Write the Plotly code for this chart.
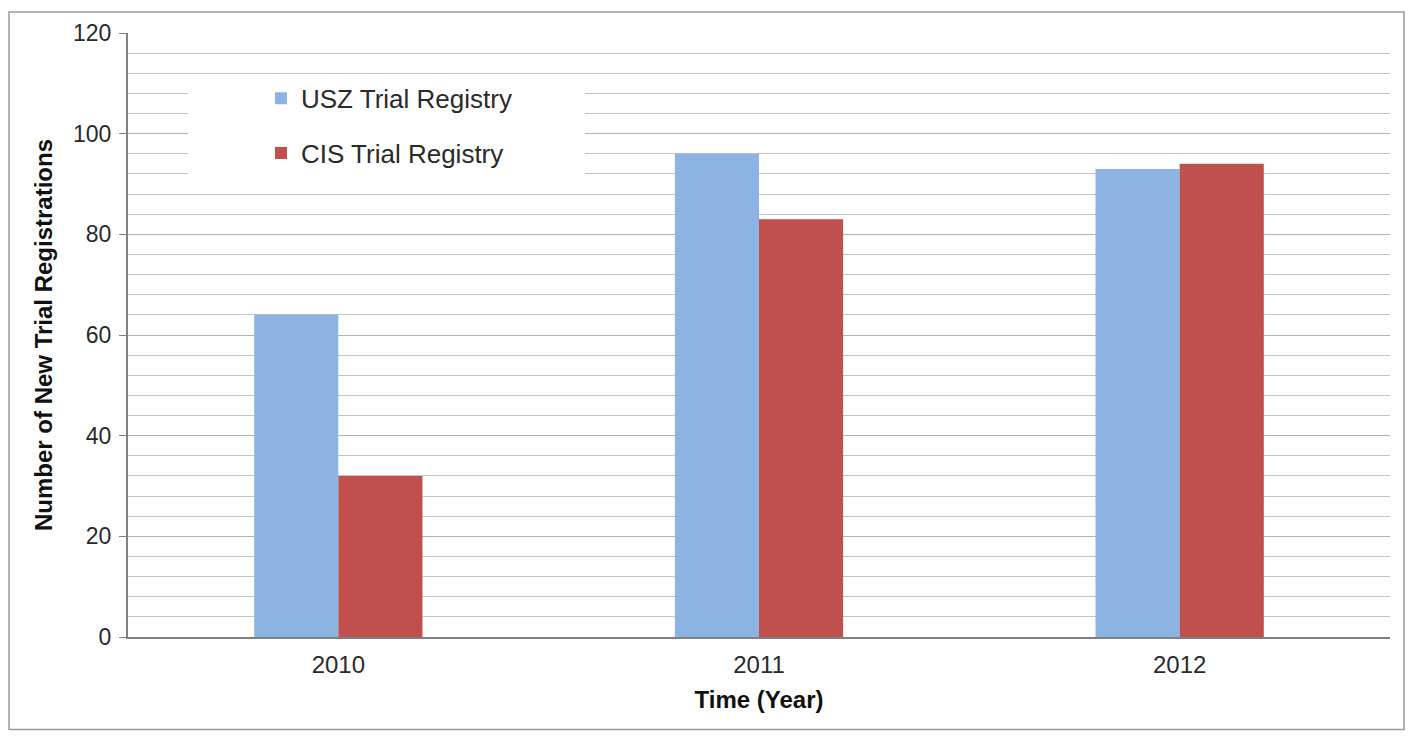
import plotly.graph_objects as go

years = ["2010", "2011", "2012"]
usz = [64, 96, 93]
cis = [32, 83, 94]
series_names = ["USZ Trial Registry", "CIS Trial Registry"]
colors = ["#8DB3E2", "#C0504D"]

# page body has an 8px margin; work in screen pixels and convert
OFF = 8
W, H = 1413 - 2 * OFF, 739 - 2 * OFF
left, right, top, bottom = 128, 1390, 30, 637  # plot area in screen px
ml, mt = left - OFF, top - OFF
mr = W - (right - OFF)
mb = H - (bottom - OFF)
pw, ph = W - ml - mr, H - mt - mb


def px_x(p):
    return (p - OFF - ml) / pw


def px_y(p):
    return (bottom - p) / ph


fig = go.Figure()
for name, vals, c, g in zip(series_names, [usz, cis], colors, ["a", "b"]):
    fig.add_trace(go.Bar(x=years, y=vals, name=name, marker_color=c,
                         marker_line_width=0, legendgroup=g))

font = "Liberation Sans, Arial, sans-serif"
fig.update_layout(
    width=W, height=H,
    margin=dict(l=ml, r=mr, t=mt, b=mb),
    paper_bgcolor="white", plot_bgcolor="white",
    bargap=0.6, bargroupgap=0,
    font=dict(family=font, size=22, color="#2a2a2a"),
    showlegend=True,
    legend=dict(x=px_x(261), y=px_y(72), xanchor="left", yanchor="top",
                bgcolor="rgba(0,0,0,0)", font=dict(size=26, color="#2a2a2a"),
                tracegroupgap=18, itemwidth=30),
    xaxis=dict(showgrid=False, showline=True, linecolor="#808080", linewidth=2,
               ticks="", tickfont=dict(size=24, color="#2a2a2a"), ticklabelstandoff=5,
               title=dict(text="<b>Time (Year)</b>", font=dict(size=24, color="#111111"), standoff=14)),
    yaxis=dict(range=[0, 120], dtick=20, showgrid=True, gridcolor="#b4b4b4", gridwidth=1,
               showline=True, linecolor="#808080", linewidth=2,
               ticks="outside", ticklen=7, tickcolor="#808080", ticklabelstandoff=3,
               minor=dict(dtick=4, showgrid=True, gridcolor="#c4c4c4", gridwidth=1),
               tickfont=dict(size=23, color="#2a2a2a"), zeroline=False,
               title=dict(text="<b>Number of New Trial Registrations</b>",
                          font=dict(size=24, color="#111111"), standoff=14)),
    shapes=[
        dict(type="rect", xref="paper", yref="paper",
             x0=px_x(188), x1=px_x(585), y0=px_y(180), y1=px_y(88),
             fillcolor="white", line=dict(width=0), layer="above"),
        dict(type="rect", xref="paper", yref="paper",
             x0=px_x(9), x1=px_x(1404), y0=px_y(730), y1=px_y(9),
             fillcolor="rgba(0,0,0,0)", line=dict(color="#9a9a9a", width=1.5), layer="above"),
    ],
)

fig.write_html("out.html")
